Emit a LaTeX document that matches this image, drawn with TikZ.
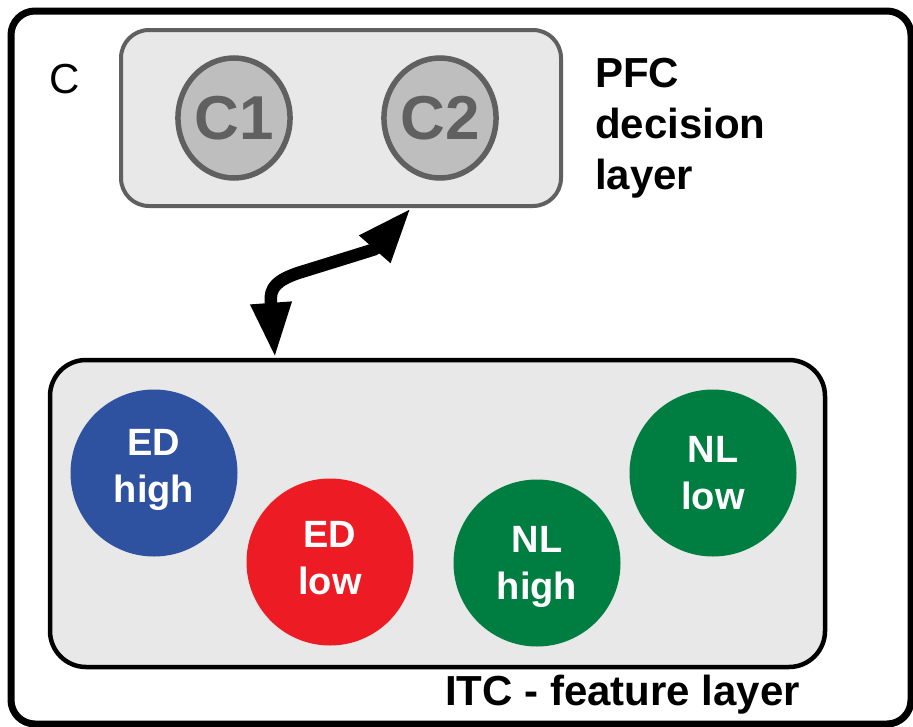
\documentclass[tikz,border=0pt]{standalone}
\usepackage{fontspec}
\setmainfont{Liberation Sans}
\usetikzlibrary{arrows.meta,shapes.geometric}

\definecolor{panelgray}{HTML}{E8E8E8}
\definecolor{edgegray}{HTML}{606060}
\definecolor{unitgray}{HTML}{BEBEBE}
\definecolor{edblue}{HTML}{2E51A0}
\definecolor{edred}{HTML}{ED1C24}
\definecolor{nlgreen}{HTML}{007D40}

\tikzset{
  frame/.style={draw=black, line width=7pt, rounded corners=24pt},
  pfcbox/.style={draw=edgegray, fill=panelgray, line width=4pt, rounded corners=28pt,
    minimum width=440pt, minimum height=176pt, inner sep=0pt},
  itcbox/.style={draw=black, fill=panelgray, line width=4.5pt, rounded corners=36pt,
    minimum width=775pt, minimum height=307pt, inner sep=0pt},
  unit/.style={ellipse, draw=edgegray, fill=unitgray, line width=5.5pt,
    minimum width=110pt, minimum height=120pt, inner sep=0pt,
    text=edgegray, font=\fontsize{62}{64}\selectfont\bfseries},
  feature/.style={circle, minimum size=167pt, inner sep=0pt, text=white, align=center,
    font=\fontsize{38}{47}\selectfont\bfseries},
  title/.style={inner sep=0pt, text=black, font=\fontsize{42}{51}\selectfont\bfseries},
  dblarrow/.style={line width=12.5pt, line join=round, draw=black,
    {Triangle[length=55pt,width=38pt]}-{Triangle[length=55pt,width=38pt]}},
}

\begin{document}
\begin{tikzpicture}[x=1pt,y=-1pt]
  \useasboundingbox (0,0) rectangle (913,726);

  % outer panel frame
  \draw[frame] (11,11) rectangle (911,724);

  % panel letter
  \node[inner sep=0pt, font=\fontsize{42}{42}\selectfont] (panel) at (65,79) {C};

  % decision layer with its two category units
  \node[pfcbox] (pfc) at (341,118) {};
  \node[unit] (c1) at (234,118) {C1};
  \node[unit] (c2) at (440,118) {C2};
  \node[title, align=left, anchor=west] (pfclabel) at (595,128) {PFC\\decision\\layer};

  % feature layer with its four feature units
  \node[itcbox] (itc) at (437.5,513.5) {};
  \node[feature, fill=edblue, text depth=14pt] (edhigh) at (154,473) {ED\\high};
  \node[feature, fill=edred, text depth=8pt] (edlow) at (330,562) {ED\\low};
  \node[feature, fill=nlgreen, text depth=0pt] (nlhigh) at (537,563) {NL\\high};
  \node[feature, fill=nlgreen] (nllow) at (713,473) {NL\\low};
  \node[title, anchor=base west] (itclabel) at (445,705) {ITC - feature layer};

  % two-way link between the layers
  \draw[dblarrow] (275,0 |- itc.north) -- (271,303)
    .. controls (269,287) and (278,280) .. (298,273)
    -- (340,260)
    .. controls (356,255) and (366,252) .. (375,249)
    -- (411,0 |- pfc.south);
\end{tikzpicture}
\end{document}
